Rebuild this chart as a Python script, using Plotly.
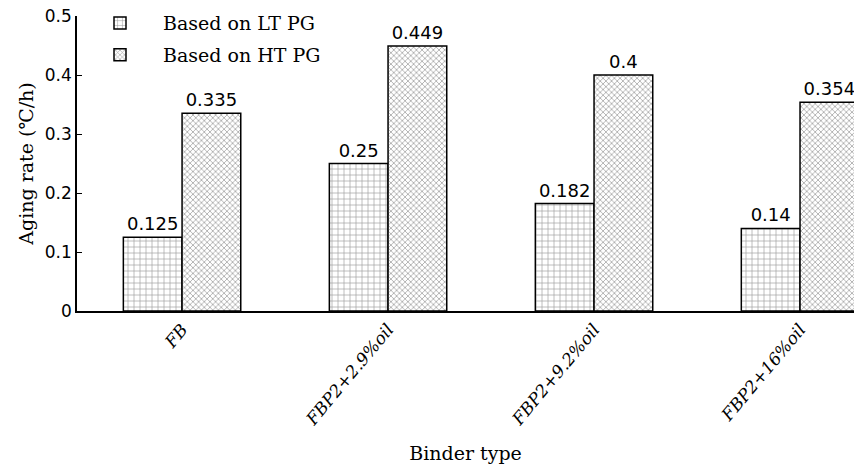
import plotly.graph_objects as go

binder_types = ["FB", "FBP2+2.9%oil", "FBP2+9.2%oil", "FBP2+16%oil"]
lt_pg_rate = [0.125, 0.25, 0.182, 0.14]
ht_pg_rate = [0.335, 0.449, 0.4, 0.354]
series_names = ["Based on LT PG", "Based on HT PG"]
y_ticks = [0, 0.1, 0.2, 0.3, 0.4, 0.5]
y_tick_text = ["0", "0.1", "0.2", "0.3", "0.4", "0.5"]

serif = "DejaVu Serif"
sans = "DejaVu Sans"

fig = go.Figure()
fig.add_trace(go.Bar(
    name=series_names[0], x=binder_types, y=lt_pg_rate, legendgroup="lt",
    text=[f"{v:g}" for v in lt_pg_rate], textposition="outside",
    textfont=dict(family=sans, size=18, color="black"),
    constraintext="none", cliponaxis=False,
    marker=dict(color="white", line=dict(color="black", width=1.5),
                pattern=dict(shape="+", size=6, solidity=0.2,
                             fgcolor="#333333", bgcolor="white")),
))
fig.add_trace(go.Bar(
    name=series_names[1], x=binder_types, y=ht_pg_rate, legendgroup="ht",
    text=[f"{v:g}" for v in ht_pg_rate], textposition="outside",
    textfont=dict(family=sans, size=18, color="black"),
    constraintext="none", cliponaxis=False,
    marker=dict(color="white", line=dict(color="black", width=1.5),
                pattern=dict(shape="x", size=4, solidity=0.35,
                             fgcolor="#444444", bgcolor="white")),
))

fig.update_layout(
    width=854, height=470,
    margin=dict(l=77, r=0, t=16, b=159),
    paper_bgcolor="white", plot_bgcolor="white",
    barmode="group", bargap=0.43, bargroupgap=0,
    showlegend=True,
    legend=dict(x=0.0, y=1.04, xanchor="left", yanchor="top",
                font=dict(family=serif, size=19, color="black"),
                itemwidth=76, tracegroupgap=4, bgcolor="rgba(0,0,0,0)"),
    xaxis=dict(
        range=[-0.51, 3.262],
        showline=True, linecolor="black", linewidth=1.5,
        ticks="", showgrid=False, zeroline=False,
        tickangle=-50,
        tickfont=dict(family=serif, size=17, color="black", style="italic"),
        title=dict(text="Binder type", standoff=18,
                   font=dict(family=serif, size=19, color="black")),
    ),
    yaxis=dict(
        range=[0, 0.5],
        tickvals=y_ticks, ticktext=y_tick_text,
        showline=True, linecolor="black", linewidth=1.5,
        ticks="inside", ticklen=5, tickcolor="black",
        showgrid=False, zeroline=False,
        tickfont=dict(family=sans, size=17, color="black"),
        title=dict(text="Aging rate (℃/h)", standoff=6,
                   font=dict(family=serif, size=19, color="black")),
    ),
)

fig.write_html("out.html")
